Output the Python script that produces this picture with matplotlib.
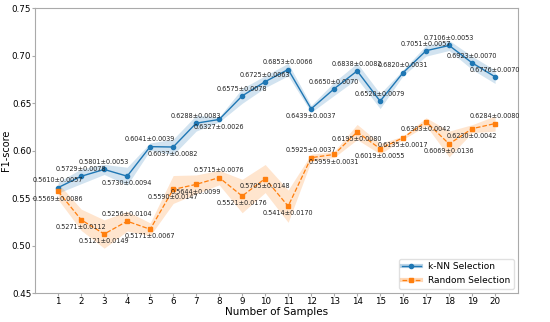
import numpy as np
import matplotlib.pyplot as plt
from matplotlib.lines import Line2D

samples = list(range(1, 21))

knn_mean = [0.5610, 0.5729, 0.5801, 0.5730, 0.6041, 0.6037, 0.6288, 0.6327, 0.6575, 0.6725,
            0.6853, 0.6439, 0.6650, 0.6838, 0.6520, 0.6820, 0.7051, 0.7106, 0.6923, 0.6776]
knn_std = [0.0057, 0.0078, 0.0053, 0.0094, 0.0039, 0.0082, 0.0083, 0.0026, 0.0078, 0.0063,
           0.0066, 0.0037, 0.0070, 0.0082, 0.0079, 0.0031, 0.0057, 0.0053, 0.0070, 0.0070]

rand_mean = [0.5569, 0.5271, 0.5121, 0.5256, 0.5171, 0.5590, 0.5644, 0.5715, 0.5521, 0.5705,
             0.5414, 0.5925, 0.5959, 0.6195, 0.6019, 0.6135, 0.6303, 0.6069, 0.6230, 0.6284]
rand_std = [0.0086, 0.0112, 0.0149, 0.0104, 0.0067, 0.0147, 0.0099, 0.0076, 0.0176, 0.0148,
            0.0170, 0.0037, 0.0031, 0.0080, 0.0055, 0.0017, 0.0042, 0.0136, 0.0042, 0.0080]

# which labels sit below / above their point
knn_below = [4, 6, 8, 12]
rand_above = [4, 8, 12, 20]

blue = '#1f77b4'
orange = '#ff7f0e'

fig, ax = plt.subplots(figsize=(5.5, 3.22), dpi=100)

x = np.array(samples)
km, ks = np.array(knn_mean), np.array(knn_std)
rm, rs = np.array(rand_mean), np.array(rand_std)

ax.fill_between(x, km - ks, km + ks, color=blue, alpha=0.2, lw=0)
ax.fill_between(x, rm - rs, rm + rs, color=orange, alpha=0.2, lw=0)
ax.plot(x, km, '-', marker='o', color=blue, lw=1, ms=3)
ax.plot(x, rm, '--', marker='s', color=orange, lw=0.9, ms=3)

for n, m, s in zip(samples, knn_mean, knn_std):
    dy = -3 if n in knn_below else 3
    ax.annotate(f'{m:.4f}\u00b1{s:.4f}', (n, m), xytext=(0, dy), textcoords='offset points',
                ha='center', va='top' if dy < 0 else 'bottom', fontsize=4.7, color='#222222')
for n, m, s in zip(samples, rand_mean, rand_std):
    dy = 3 if n in rand_above else -3
    ax.annotate(f'{m:.4f}\u00b1{s:.4f}', (n, m), xytext=(0, dy), textcoords='offset points',
                ha='center', va='top' if dy < 0 else 'bottom', fontsize=4.7, color='#222222')

ax.set_xlim(0, 21)
ax.set_ylim(0.45, 0.75)
ax.set_xticks(samples)
ax.set_yticks(np.arange(0.45, 0.751, 0.05))
ax.tick_params(labelsize=6.3, color='#aaaaaa', length=2, width=0.8, pad=0.8)
for sp in ax.spines.values():
    sp.set_color('#aaaaaa')
ax.set_xlabel('Number of Samples', fontsize=7.5, labelpad=1)
ax.set_ylabel('F1-score', fontsize=7)
ax.yaxis.set_label_coords(-0.05, 0.5)

h1 = (Line2D([], [], color=blue, alpha=0.3, lw=3),
      Line2D([], [], color=blue, lw=1, marker='o', ms=3))
h2 = (Line2D([], [], color=orange, alpha=0.3, lw=3),
      Line2D([], [], color=orange, lw=0.9, ls='--', marker='s', ms=3))
ax.legend([h1, h2], ['k-NN Selection', 'Random Selection'], loc='lower right', fontsize=6.5,
          framealpha=0.9, edgecolor='#dddddd')

fig.subplots_adjust(left=0.064, right=0.942, top=0.975, bottom=0.09)
fig.savefig('out.png', dpi=100)
